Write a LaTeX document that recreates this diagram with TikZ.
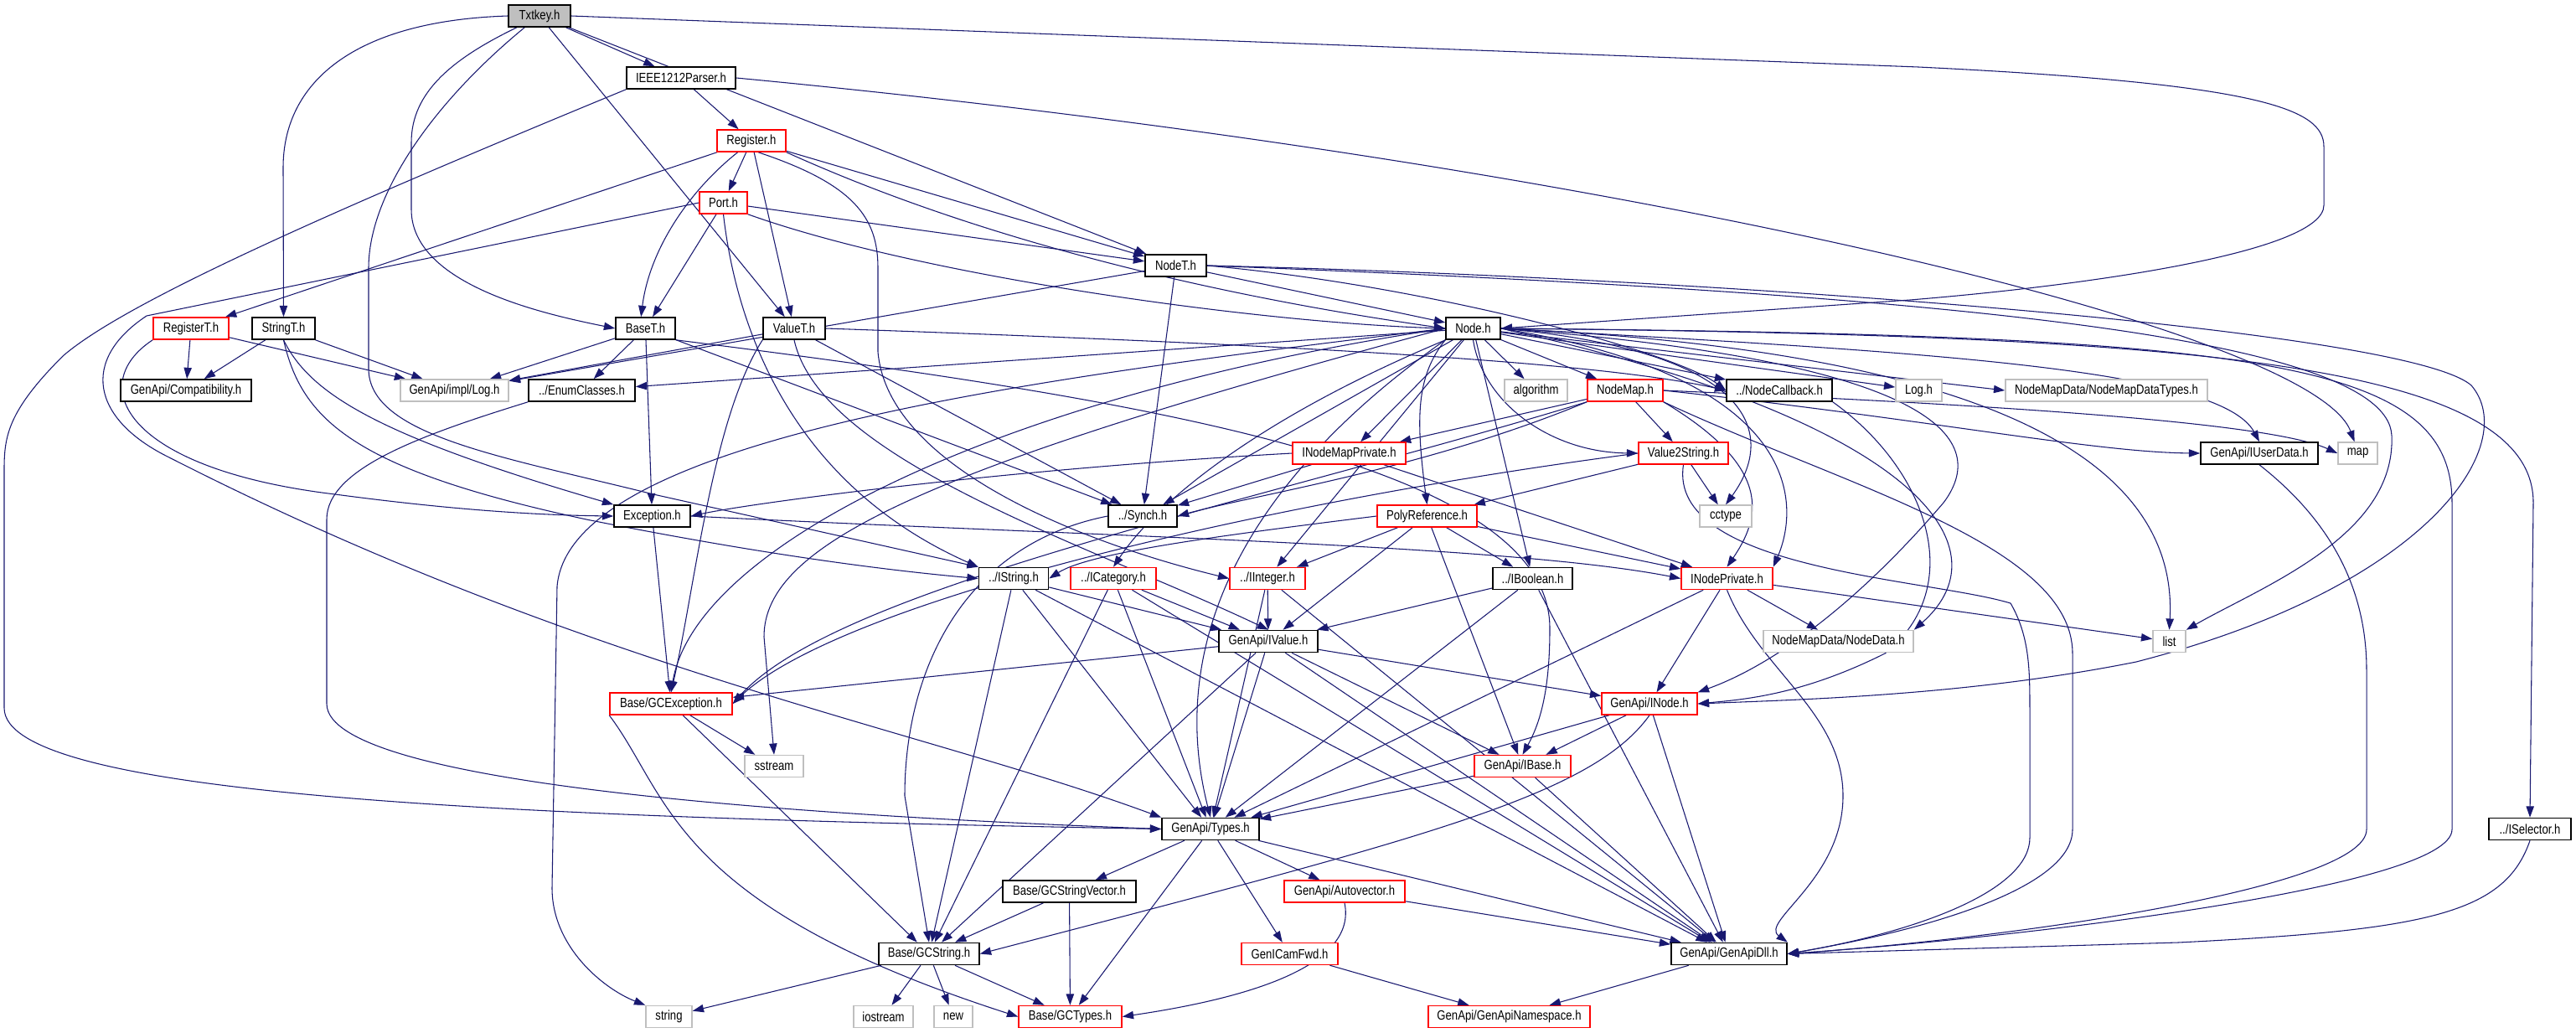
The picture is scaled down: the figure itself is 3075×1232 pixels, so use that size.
\documentclass[tikz,border=0pt]{standalone}
\usepackage{fontspec}
\setmainfont{Liberation Sans}[FakeStretch=0.82]
\usetikzlibrary{arrows.meta}
\definecolor{edgec}{HTML}{191970}
\definecolor{boxgray}{HTML}{BFBFBF}
\pgfdeclarelayer{edgelayer}
\pgfsetlayers{edgelayer,main}
\begin{document}
\begin{tikzpicture}[x=0.75pt,y=-0.75pt,
  base/.style={rectangle, inner sep=0pt, minimum height=19.5pt, font=\fontsize{12pt}{14pt}\selectfont, fill=white},
  bk/.style={base, draw=black, line width=1.2pt},
  rd/.style={base, draw=red, line width=1.1pt},
  gr/.style={base, draw=boxgray, line width=1.1pt},
  e/.style={draw=edgec, line width=0.8pt, -{Triangle[length=10pt,width=7pt]}}]
\useasboundingbox (0,0) rectangle (3075,1232);
\newcommand\nb[6]{\node[#1, minimum width=#5*0.75pt] (#2) at (#3,#4) {#6};}
% rank 0-4
\nb{bk,fill=boxgray}{txt}{644}{19}{74}{Txtkey.h}
\nb{bk}{ieee}{813}{93}{130}{IEEE1212Parser.h}
\nb{rd}{reg}{897}{168}{82}{Register.h}
\nb{rd}{port}{863.5}{242}{57}{Port.h}
\nb{bk}{nodet}{1403.5}{317}{73}{NodeT.h}
% rank 5
\nb{rd}{regt}{228}{392}{90}{RegisterT.h}
\nb{bk}{strt}{338.5}{392}{75}{StringT.h}
\nb{bk}{baset}{770.5}{392}{71}{BaseT.h}
\nb{bk}{valuet}{948}{392}{74}{ValueT.h}
\nb{bk}{node}{1758.5}{392}{65}{Node.h}
% rank 6
\nb{bk}{compat}{222}{466}{156}{GenApi/Compatibility.h}
\nb{gr}{ilog}{542.5}{466}{129}{GenApi/impl/Log.h}
\nb{bk}{enumc}{694.5}{466}{127}{../EnumClasses.h}
\nb{gr}{algo}{1833.5}{466}{75}{algorithm}
\nb{rd}{nmap}{1940}{466}{90}{NodeMap.h}
\nb{bk}{ncb}{2124}{466}{126}{../NodeCallback.h}
\nb{gr}{log}{2290.5}{466}{55}{Log.h}
\nb{gr}{nmdt}{2514.5}{466}{241}{NodeMapData/NodeMapDataTypes.h}
% rank 7
\nb{rd}{inmp}{1610.5}{541}{135}{INodeMapPrivate.h}
\nb{rd}{v2s}{2009.5}{541}{107}{Value2String.h}
\nb{bk}{iud}{2697}{541}{140}{GenApi/IUserData.h}
\nb{gr}{map}{2814.5}{541}{47}{map}
% rank 8
\nb{bk}{exc}{778.5}{616}{91}{Exception.h}
\nb{bk}{synch}{1364}{616}{82}{../Synch.h}
\nb{rd}{poly}{1703.5}{616}{119}{PolyReference.h}
\nb{gr}{cctype}{2060}{616}{62}{cctype}
% rank 9
\nb{bk}{istr}{1210}{690.5}{83}{../IString.h}
\nb{rd}{icat}{1329}{690.5}{102}{../ICategory.h}
\nb{rd}{iint}{1513}{690.5}{90}{../IInteger.h}
\nb{bk}{ibool}{1829.5}{690.5}{95}{../IBoolean.h}
\nb{rd}{inp}{2061.5}{690.5}{109}{INodePrivate.h}
% rank 10
\nb{bk}{ival}{1514}{765.5}{118}{GenApi/IValue.h}
\nb{gr}{ndata}{2194.5}{765.5}{179}{NodeMapData/NodeData.h}
\nb{gr}{list}{2589.5}{765.5}{39}{list}
% rank 11
\nb{rd}{gcexc}{801}{840}{146}{Base/GCException.h}
\nb{rd}{inode}{1969}{840}{114}{GenApi/INode.h}
% rank 12
\nb{gr}{sstream}{924}{914.5}{70}{sstream}
\nb{rd}{ibase}{1817.5}{914.5}{115}{GenApi/IBase.h}
% rank 13
\nb{bk}{types}{1445}{989.5}{116}{GenApi/Types.h}
\nb{bk}{isel}{3020}{989.5}{98}{../ISelector.h}
% rank 14
\nb{bk}{gcsv}{1276.5}{1064}{159}{Base/GCStringVector.h}
\nb{rd}{autov}{1605}{1064}{144}{GenApi/Autovector.h}
% rank 15
\nb{bk}{gcstr}{1109}{1138.5}{120}{Base/GCString.h}
\nb{rd}{gicf}{1539.5}{1138.5}{115}{GenICamFwd.h}
\nb{bk}{dll}{2064}{1138.5}{138}{GenApi/GenApiDll.h}
% rank 16
\nb{gr}{string}{798.5}{1213.5}{55}{string}
\nb{gr}{iostream}{1054.5}{1213.5}{71}{iostream}
\nb{gr}{new}{1138}{1213.5}{46}{new}
\nb{rd}{gctypes}{1277.5}{1213.5}{123}{Base/GCTypes.h}
\nb{rd}{gans}{1801.5}{1213.5}{193}{GenApi/GenApiNamespace.h}

\begin{pgfonlayer}{edgelayer}
% Txtkey
\draw[e] (txt) -- (ieee);
\draw[e] (txt.west) .. controls (420,25) and (338,100) .. (338,200) -- (strt.north);
\draw[e] ([xshift=8pt]txt.south west) .. controls (540,70) and (491,110) .. (491,170) -- (491,250) .. controls (491,340) and (650,375) .. (baset.west);
\draw[e] ([xshift=15pt]txt.south west) .. controls (520,120) and (440,230) .. (440,320) -- (440,440) .. controls (440,520) and (600,545) .. (780,590) -- (istr.north west);
\draw[e] (txt) -- (valuet);
\draw[e] (txt) -- (nodet);
\draw[e] (txt.east) -- (2290,80) .. controls (2700,100) and (2774,130) .. (2774,175) -- (2774,245) .. controls (2774,300) and (2500,340) .. (2280,358) -- (node.east);
% IEEE
\draw[e] (ieee) -- (reg);
\draw[e] (ieee.south west) .. controls (400,250) and (150,360) .. (75,425) .. controls (10,490) and (5,520) .. (5,560) -- (5,845) .. controls (5,950) and (600,975) .. (types.west);
\draw[e] (ieee.east) .. controls (1900,190) and (2760,390) .. ([xshift=-3pt]map.north);
% Register
\draw[e] (reg) -- (port);
\draw[e] (reg) -- (regt);
\draw[e] (reg.220) .. controls (820,230) and (775,300) .. ([xshift=-4pt]baset.north);
\draw[e] (reg) -- (valuet);
\draw[e] (reg) -- (nodet);
\draw[e] (reg.south east) .. controls (1200,300) and (1500,360) .. (node.west);
\draw[e] (reg.300) .. controls (1020,220) and (1048,260) .. (1048,320) -- (1048,420) .. controls (1060,560) and (1300,650) .. (iint.west);
% Port
\draw[e] (port) -- (baset);
\draw[e] (port) -- (nodet);
\draw[e] (port.south east) .. controls (1100,330) and (1500,385) .. (node.west);
\draw[e] (port.west) -- (175,377) .. controls (95,430) and (110,500) .. (200,545) .. controls (700,800) and (1100,870) .. (types.north west);
\draw[e] (port.south) .. controls (880,400) and (950,580) .. (istr.north west);
% NodeT
\draw[e] (nodet) -- (node);
\draw[e] (nodet) -- (ilog);
\draw[e] (nodet) -- (synch);
\draw[e] (nodet.east) .. controls (2000,330) and (2870,390) .. (2950,460) .. controls (3010,530) and (2900,700) .. (2550,790) .. controls (2350,830) and (2150,835) .. (inode.east);
\draw[e] (nodet.east) .. controls (1700,340) and (2000,420) .. (ncb.west);
\draw[e] (nodet.east) .. controls (2300,350) and (2850,400) .. (2855,520) .. controls (2860,640) and (2700,700) .. (list.north east);
% RegisterT, StringT
\draw[e] (regt) -- (compat);
\draw[e] (regt) -- (ilog);
\draw[e] (regt.south west) .. controls (100,460) and (150,560) .. (400,590) .. controls (550,610) and (650,615) .. (exc.west);
\draw[e] (strt) -- (compat);
\draw[e] (strt) -- (ilog);
\draw[e] (strt.south) .. controls (370,470) and (450,520) .. (exc.north west);
\draw[e] (strt.south) .. controls (360,500) and (420,560) .. (700,620) .. controls (900,660) and (1050,680) .. (istr.west);
% BaseT
\draw[e] (baset) -- (ilog);
\draw[e] (baset) -- (enumc);
\draw[e] (baset) -- (exc);
\draw[e] (baset) -- (synch);
\draw[e] (baset.south east) .. controls (1400,480) and (1850,560) .. (1850,750) .. controls (1850,820) and (1840,860) .. (ibase.north);
% ValueT
\draw[e] (valuet) -- (ilog);
\draw[e] (valuet) -- (synch);
\draw[e] (valuet.south west) .. controls (850,500) and (830,700) .. (gcexc.north);
\draw[e] (valuet.south) .. controls (980,550) and (1300,650) .. (ival.north);
\draw[e] (valuet.east) .. controls (1500,410) and (1900,430) .. (ncb.west);
% Node fan
\draw[e] (node) -- (enumc);
\draw[e] (node) -- (synch);
\draw[e] (node.west) .. controls (1200,470) and (830,650) .. (gcexc.north);
\draw[e] (node.west) .. controls (1250,450) and (680,520) .. (665,700) -- (659,1060) .. controls (659,1130) and (720,1180) .. (string.north west);
\draw[e] (node.west) .. controls (1100,560) and (912,650) .. (912,760) -- (sstream.north);
\draw[e] (node.south west) .. controls (1450,600) and (1400,800) .. (types.north);
\draw[e] (node) -- (iint);
\draw[e] (node) .. controls (1500,500) and (1380,600) .. (icat.north);
\draw[e] (node) -- (inmp);
\draw[e] (node.south west) .. controls (1690,450) and (1690,500) .. (poly.north);
\draw[e] (node) -- (ibool);
\draw[e] (node) -- (algo);
\draw[e] (node) -- (nmap);
\draw[e] (node.south) .. controls (1770,480) and (1850,540) .. (v2s.west);
\draw[e] (node.east) .. controls (2100,420) and (2120,520) .. (cctype.north);
\draw[e] (node) -- (ncb);
\draw[e] (node) -- (log);
\draw[e] (node) -- (nmdt.west);
\draw[e] (node.east) .. controls (2300,420) and (2650,440) .. (iud.north);
\draw[e] (node.east) .. controls (2400,420) and (2600,560) .. (list.north);
\draw[e] (node.east) .. controls (2600,400) and (3024,430) .. (3024,600) -- (isel.north);
\draw[e] (node.east) .. controls (2700,400) and (2927,430) .. (2927,600) -- (2927,990) .. controls (2927,1060) and (2400,1120) .. (dll.east);
\draw[e] (node.east) .. controls (2300,430) and (2380,520) .. (2320,600) .. controls (2200,740) and (2100,800) .. (inode.north east);
\draw[e] (node.east) .. controls (2280,500) and (2400,650) .. (ndata.north east);
\draw[e] (node.east) .. controls (2150,450) and (2150,600) .. (inp.north east);
% EnumClasses, Exception
\draw[e] (enumc.south west) .. controls (500,520) and (390,560) .. (390,620) -- (390,840) .. controls (390,940) and (1000,975) .. (types.west);
\draw[e] (exc) -- (gcexc);
\draw[e] (exc.east) .. controls (1300,640) and (1800,650) .. (inp.west);
% INodeMapPrivate
\draw[e] (inmp.west) .. controls (1200,560) and (900,600) .. (exc.east);
\draw[e] (inmp) -- (synch);
\draw[e] (inmp) -- (inp);
% NodeMap
\draw[e] (nmap) -- (inmp);
\draw[e] (nmap) -- (v2s);
\draw[e] (nmap.south east) .. controls (2120,560) and (2100,620) .. (inp.north);
\draw[e] (nmap.east) .. controls (2300,500) and (2500,540) .. (iud.west);
\draw[e] (nmap.east) .. controls (2300,480) and (2700,500) .. (map.west);
\draw[e] (nmap.south west) .. controls (1700,560) and (1500,590) .. (synch.east);
\draw[e] (nmap.south east) .. controls (2200,580) and (2474,650) .. (2474,780) -- (2474,990) .. controls (2474,1060) and (2300,1110) .. (dll.east);
\draw[e] (nmap.south west) .. controls (1500,600) and (1000,700) .. (gcexc.east);
% Value2String
\draw[e] (v2s) -- (poly);
\draw[e] (v2s) -- (cctype);
\draw[e] (v2s.south) .. controls (1990,680) and (2300,690) .. (2400,720) .. controls (2423,760) and (2423,800) .. (2423,850) -- (2423,1000) .. controls (2423,1060) and (2300,1110) .. (dll.east);
\draw[e] (v2s.west) .. controls (1500,600) and (1000,720) .. (gcexc.east);
% Synch
\draw[e] (synch.west) .. controls (1150,650) and (1080,800) .. (1080,950) -- (gcstr.north);
% PolyReference
\draw[e] (poly) -- (iint);
\draw[e] (poly) -- (ibool);
\draw[e] (poly) -- (ival);
\draw[e] (poly) -- (inp);
\draw[e] (poly) -- (ibase);
\draw[e] (poly.west) .. controls (1450,640) and (1300,660) .. (istr.east);
% IString, ICategory, IInteger, IBoolean
\draw[e] (istr) -- (ival);
\draw[e] (istr) -- (types);
\draw[e] (istr) -- (gcstr);
\draw[e] (istr) -- (dll);
\draw[e] (icat) -- (ival);
\draw[e] (icat) -- (types);
\draw[e] (icat) -- (gcstr);
\draw[e] (icat) -- (dll);
\draw[e] (iint) -- (ival);
\draw[e] (iint) -- (types);
\draw[e] (iint) -- (dll);
\draw[e] (ibool) -- (ival);
\draw[e] (ibool) -- (types);
\draw[e] (ibool) -- (dll);
% INodePrivate
\draw[e] (inp) -- (inode);
\draw[e] (inp) -- (list);
\draw[e] (inp) -- (ndata);
\draw[e] (inp) -- (types);
\draw[e] (inp.south) .. controls (2100,800) and (2200,850) .. (2200,950) .. controls (2200,1050) and (2100,1100) .. (dll.north east);
% IValue
\draw[e] (ival) -- (inode);
\draw[e] (ival) -- (gcexc);
\draw[e] (ival) -- (ibase);
\draw[e] (ival) -- (types);
\draw[e] (ival) -- (gcstr);
\draw[e] (ival) -- (dll);
% INode, IBase, NodeCallback, IUserData, ISelector
\draw[e] (inode) -- (ibase);
\draw[e] (inode) -- (types);
\draw[e] (inode.south) .. controls (1900,950) and (1700,1000) .. (gcstr.east);
\draw[e] (inode) -- (dll);
\draw[e] (ibase) -- (types);
\draw[e] (ibase) -- (dll);
\draw[e] (ncb.south east) .. controls (2300,560) and (2350,700) .. (2250,780) .. controls (2150,830) and (2080,835) .. (inode.east);
\draw[e] (iud.south) .. controls (2780,620) and (2825,700) .. (2825,800) -- (2825,990) .. controls (2825,1060) and (2400,1120) .. (dll.east);
\draw[e] (isel.south) .. controls (2990,1090) and (2900,1110) .. (2600,1125) -- (dll.east);
% bottom part
\draw[e] (gcexc) -- (sstream);
\draw[e] (gcexc) -- (gcstr);
\draw[e] (gcexc.south west) .. controls (800,950) and (800,1080) .. (gctypes.west);
\draw[e] (types) -- (gcsv);
\draw[e] (types) -- (gctypes);
\draw[e] (types) -- (autov);
\draw[e] (types) -- (gicf);
\draw[e] (types) -- (dll);
\draw[e] (gcsv) -- (gcstr);
\draw[e] (gcsv) -- (gctypes);
\draw[e] (gcstr) -- (string);
\draw[e] (gcstr) -- (iostream);
\draw[e] (gcstr) -- (new);
\draw[e] (gcstr) -- (gctypes);
\draw[e] (autov) -- (dll);
\draw[e] (autov.south) .. controls (1620,1150) and (1500,1190) .. (gctypes.east);
\draw[e] (gicf) -- (gans);
\draw[e] (dll) -- (gans);
\end{pgfonlayer}
\end{tikzpicture}
\end{document}
